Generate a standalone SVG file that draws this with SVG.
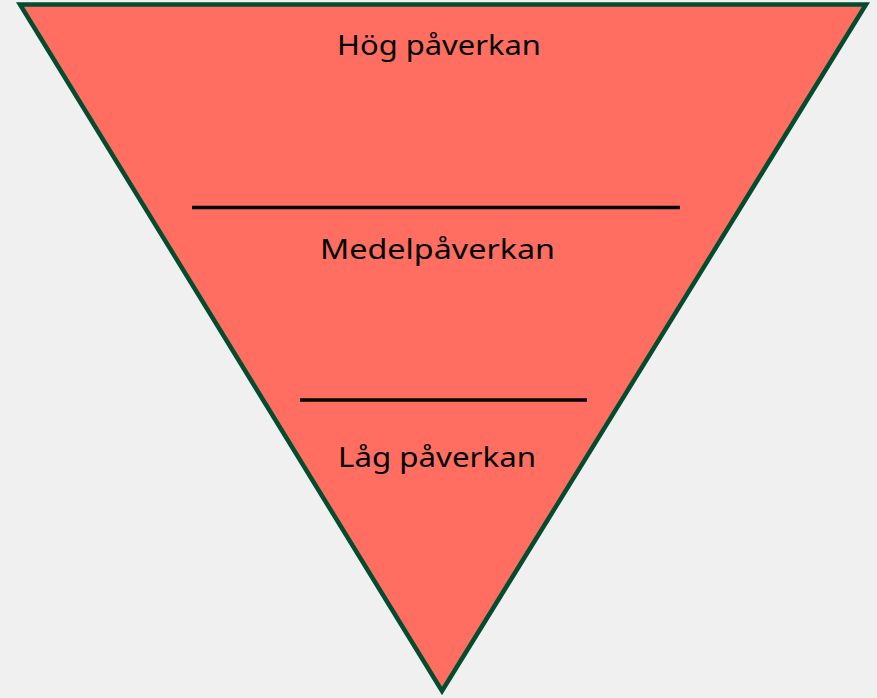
<svg xmlns="http://www.w3.org/2000/svg" width="877" height="698" viewBox="0 0 877 698">
<style>
.lbl{font-family:"Noto Sans","Open Sans","Liberation Sans",sans-serif;font-size:28px;fill:#000;text-anchor:middle}
.div{stroke:#000;stroke-width:3.5}
</style>
<rect width="877" height="698" fill="#f0f0f0"/>
<g id="triangle">
<polygon points="20,4.5 866,4.5 442,691" fill="#ff6e61" stroke="#034d2f" stroke-width="4.5" stroke-linejoin="miter"/>
</g>
<g id="dividers">
<line class="div" x1="192" y1="207.5" x2="680" y2="207.5"/>
<line class="div" x1="300" y1="400" x2="587" y2="400"/>
</g>
<g id="high"><text class="lbl" x="439" y="55" textLength="204" lengthAdjust="spacingAndGlyphs">Hög påverkan</text></g>
<g id="medium"><text class="lbl" x="437.5" y="259" textLength="235" lengthAdjust="spacingAndGlyphs">Medelpåverkan</text></g>
<g id="low"><text class="lbl" x="437" y="467" textLength="198" lengthAdjust="spacingAndGlyphs">Låg påverkan</text></g>
</svg>
